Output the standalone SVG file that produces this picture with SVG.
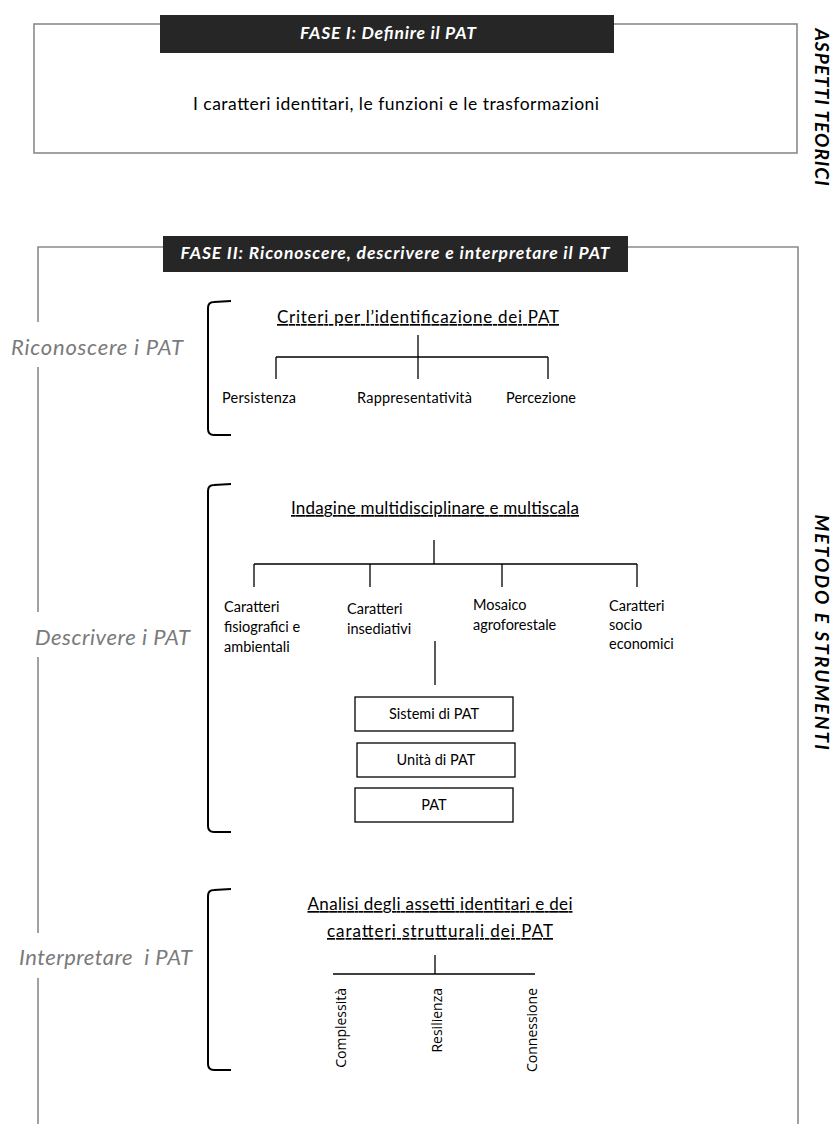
<svg xmlns="http://www.w3.org/2000/svg" width="836" height="1124" viewBox="0 0 836 1124">
<style>
.frame{fill:none;stroke:#8a8a8a;stroke-width:1.6}
.hdr{fill:#262626}
.hdrt{font-family:Lato,'Liberation Sans',sans-serif;font-weight:bold;font-style:italic;font-size:17.5px;fill:#ffffff;text-anchor:middle}
.side{font-family:Lato,'Liberation Sans',sans-serif;font-weight:bold;font-style:italic;font-size:19px;fill:#000000;text-anchor:middle}
.lab{font-family:Lato,'Liberation Sans',sans-serif;font-weight:400;font-style:italic;font-size:22px;fill:#7a7a7a}
.t{font-family:Lato,'Liberation Sans',sans-serif;font-size:14.5px;fill:#000000}
.body{font-family:Lato,'Liberation Sans',sans-serif;font-size:17.5px;fill:#000000;text-anchor:middle}
.title{font-family:Lato,'Liberation Sans',sans-serif;font-size:17px;fill:#000000;text-anchor:middle;text-decoration:underline}
.mid{text-anchor:middle}
.ln{stroke:#000000;stroke-width:1.3;fill:none}
.br{stroke:#000000;stroke-width:2;fill:none}
.box{fill:#ffffff;stroke:#000000;stroke-width:1.3}
.rot{font-family:'Open Sans','DejaVu Sans',sans-serif;font-size:14px;fill:#000000;text-anchor:end}
</style>

<g id="fase1">
  <rect class="frame" x="34" y="24" width="763" height="129"/>
  <rect class="hdr" x="160" y="15" width="454" height="38"/>
  <text class="hdrt" x="388" y="39" textLength="176">FASE I: Definire il PAT</text>
  <text class="body" x="396" y="110" textLength="406">I caratteri identitari, le funzioni e le trasformazioni</text>
</g>

<g id="side-labels">
  <text class="side" transform="translate(815,107) rotate(90)" textLength="157">ASPETTI TEORICI</text>
  <text class="side" transform="translate(815,632) rotate(90)" textLength="235">METODO E STRUMENTI</text>
</g>

<g id="fase2-frame">
  <path class="frame" d="M38,322 V247 H163 M628,247 H798 V1124 M38,367 V612 M38,657 V933 M38,978 V1124"/>
  <rect class="hdr" x="163" y="236" width="465" height="36"/>
  <text class="hdrt" x="395" y="259" textLength="429">FASE II: Riconoscere, descrivere e interpretare il PAT</text>
</g>

<g id="label-riconoscere">
  <text class="lab" x="11" y="355" textLength="172">Riconoscere i PAT</text>
</g>
<g id="label-descrivere">
  <text class="lab" x="35" y="645" textLength="155">Descrivere i PAT</text>
</g>
<g id="label-interpretare">
  <text class="lab" x="19" y="965" textLength="173" xml:space="preserve">Interpretare  i PAT</text>
</g>

<g id="brackets">
  <path class="br" d="M231,301 L214,302 Q208,302 208,308 L208,429 Q208,435 214,435 L231,435"/>
  <path class="br" d="M231,484 L214,485 Q208,485 208,491 L208,826 Q208,832 214,832 L231,832"/>
  <path class="br" d="M231,889 L214,890 Q208,890 208,896 L208,1064 Q208,1070 214,1070 L231,1070"/>
</g>

<g id="connectors">
  <path class="ln" d="M418,335 V379 M276,357 H548 M276,357 V379 M548,357 V379"/>
  <path class="ln" d="M434,540 V564 M254,564 H637 M254,564 V587 M370,564 V587 M502,564 V587 M637,564 V587"/>
  <path class="ln" d="M435,641 V685"/>
  <path class="ln" d="M435,955 V974 M333,974 H535"/>
</g>

<g id="criteri">
  <text class="title" x="418" y="323" textLength="282">Criteri per l’identificazione dei PAT</text>
</g>
<g id="persistenza"><text class="t" x="222" y="403" textLength="74">Persistenza</text></g>
<g id="rappresentativita"><text class="t" x="357" y="403" textLength="115">Rappresentatività</text></g>
<g id="percezione"><text class="t" x="506" y="403" textLength="70">Percezione</text></g>

<g id="indagine">
  <text class="title" x="435" y="514" textLength="288">Indagine multidisciplinare e multiscala</text>
</g>
<g id="fisiografici">
  <text class="t" x="224" y="612">Caratteri</text>
  <text class="t" x="224" y="632">fisiografici e</text>
  <text class="t" x="224" y="652">ambientali</text>
</g>
<g id="insediativi">
  <text class="t" x="347" y="614">Caratteri</text>
  <text class="t" x="347" y="634">insediativi</text>
</g>
<g id="mosaico">
  <text class="t" x="473" y="610">Mosaico</text>
  <text class="t" x="473" y="630">agroforestale</text>
</g>
<g id="socioeconomici">
  <text class="t" x="609" y="611">Caratteri</text>
  <text class="t" x="609" y="630">socio</text>
  <text class="t" x="609" y="649">economici</text>
</g>

<g id="sistemi">
  <rect class="box" x="355" y="697" width="158" height="34"/>
  <text class="t mid" x="434" y="719">Sistemi di PAT</text>
</g>
<g id="unita">
  <rect class="box" x="357" y="743" width="158" height="34"/>
  <text class="t mid" x="436" y="765">Unità di PAT</text>
</g>
<g id="pat">
  <rect class="box" x="355" y="788" width="158" height="34"/>
  <text class="t mid" x="434" y="810">PAT</text>
</g>

<g id="analisi">
  <text class="title" x="440" y="910" textLength="265">Analisi degli assetti identitari e dei</text>
  <text class="title" x="440" y="937" textLength="226">caratteri strutturali dei PAT</text>
</g>
<g id="complessita"><text class="rot" transform="translate(346,988) rotate(-90)">Complessità</text></g>
<g id="resilienza"><text class="rot" transform="translate(442,988) rotate(-90)">Resilienza</text></g>
<g id="connessione"><text class="rot" transform="translate(537,988) rotate(-90)">Connessione</text></g>
</svg>
